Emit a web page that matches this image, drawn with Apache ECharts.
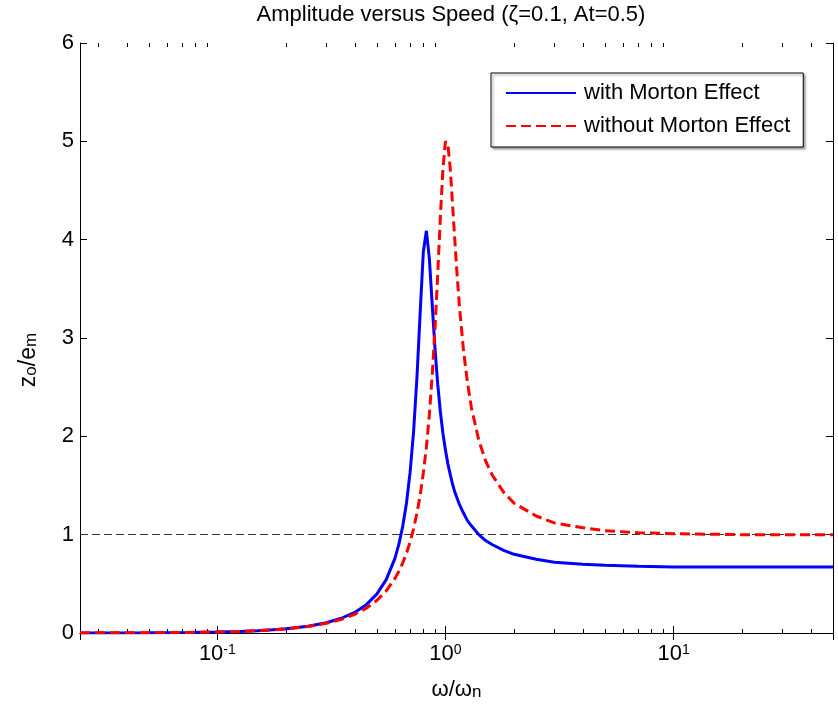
<!DOCTYPE html>
<html>
<head>
<meta charset="utf-8">
<script src="https://cdn.jsdelivr.net/npm/echarts@6/dist/echarts.min.js"></script>
<style>
html,body{margin:0;padding:0;background:#fff;}
#chart{width:838px;height:715px;}
</style>
</head>
<body>
<div id="chart"></div>
<script>
// frequency ratio (omega/omega_n)
var omega = [0.025,0.05,0.075,0.1,0.125,0.15,0.175,0.2,0.25,0.3,0.35,0.4,0.45,0.5,0.55,0.6,0.625,0.65,0.675,0.7,0.725,0.75,0.775,0.8,0.825,0.85,0.875,0.9,0.925,0.95,0.975,1.0,1.025,1.05,1.075,1.1,1.125,1.15,1.2,1.25,1.3,1.4,1.5,1.6,1.8,2.0,2.5,3,4,5,7,10,20,50];
// z_o/e_m with Morton effect
var withMorton = [0.001,0.003,0.006,0.010,0.016,0.023,0.032,0.043,0.069,0.104,0.150,0.209,0.288,0.395,0.543,0.757,0.903,1.087,1.323,1.636,2.048,2.60,3.26,3.88,4.09,3.81,3.34,2.89,2.53,2.25,2.03,1.86,1.72,1.61,1.51,1.43,1.37,1.31,1.22,1.14,1.09,1.00,0.94,0.90,0.84,0.80,0.75,0.72,0.70,0.69,0.68,0.67,0.67,0.67];
// z_o/e_m without Morton effect
var withoutMorton = [0.001,0.003,0.006,0.010,0.016,0.023,0.032,0.042,0.067,0.099,0.139,0.190,0.252,0.330,0.428,0.553,0.628,0.714,0.812,0.926,1.06,1.22,1.40,1.63,1.89,2.22,2.62,3.10,3.65,4.23,4.72,5.00,4.97,4.72,4.35,3.98,3.64,3.34,2.87,2.54,2.29,1.96,1.75,1.61,1.43,1.32,1.19,1.12,1.07,1.04,1.02,1.01,1.00,1.00];
// reference level
var refLevel = 1;
// minor tick values on the log axis
var minorTicks = [0.03,0.04,0.05,0.06,0.07,0.08,0.09,0.2,0.3,0.4,0.5,0.6,0.7,0.8,0.9,2,3,4,5,6,7,8,9,20,30,40];
var xMin = 0.025, xMax = 50, yMin = 0, yMax = 6;

var FONT = "'Liberation Sans', Arial, Helvetica, sans-serif";
var chart = echarts.init(document.getElementById('chart'), null, {renderer:'canvas'});

function pairs(xs, ys){ return xs.map(function(x,i){ return [x, ys[i]]; }); }

var option = {
  animation: false,
  backgroundColor: '#fff',
  textStyle: {fontFamily: FONT, color:'#000'},
  title: {
    text: 'Amplitude versus Speed (\u03B6=0.1, At=0.5)',
    left: 451, top: 4, textAlign: 'center', padding: 0,
    textStyle: {fontFamily: FONT, fontSize: 22, fontWeight: 'normal', color: '#000'}
  },
  grid: {left: 77, right: 5, top: 43, bottom: 82, containLabel: false},
  legend: {
    orient: 'vertical',
    left: 491, top: 73,
    padding: [9, 13, 10, 14],
    itemGap: 11,
    itemWidth: 70, itemHeight: 14,
    backgroundColor: '#fff',
    borderColor: '#000', borderWidth: 1, borderRadius: 0,
    shadowColor: 'rgba(0,0,0,0.35)', shadowBlur: 2, shadowOffsetX: 2, shadowOffsetY: 2,
    itemStyle: {opacity: 0},
    textStyle: {fontFamily: FONT, fontSize: 22, color: '#000', padding: [0,0,0,3]},
    data: ['with Morton Effect', 'without Morton Effect']
  },
  xAxis: [{
    type: 'log', logBase: 10, min: xMin, max: xMax, position: 'bottom',
    axisLine: {show: true, lineStyle: {color: '#000', width: 1}},
    axisTick: {show: true, inside: true, length: 7, lineStyle: {color:'#000'}},
    splitLine: {show: false},
    axisLabel: {
      show: true, margin: 10, showMinLabel: false, showMaxLabel: false, color: '#000',
      formatter: function(v){
        var e = Math.round(Math.log(v)/Math.LN10);
        return '{b|10}{s|' + e + '}';
      },
      rich: {
        b: {fontFamily: FONT, fontSize: 22, lineHeight: 22, padding: [6,0,0,0], verticalAlign: 'bottom', color:'#000'},
        s: {fontFamily: FONT, fontSize: 14, lineHeight: 14, verticalAlign: 'top', color:'#000'}
      }
    },
    name: '{m|\u03C9/\u03C9}{sub|n}',
    nameLocation: 'middle', nameGap: 38,
    nameTextStyle: {
      rich: {
        m: {fontFamily: FONT, fontSize: 22, lineHeight: 22, verticalAlign: 'top', color:'#000'},
        sub: {fontFamily: FONT, fontSize: 17, lineHeight: 17, padding: [14,0,0,0], verticalAlign: 'bottom', color:'#000'}
      }
    }
  },{
    type: 'log', logBase: 10, min: xMin, max: xMax, position: 'top',
    axisLine: {show: true, lineStyle: {color: '#000', width: 1}},
    axisTick: {show: true, inside: true, length: 7, lineStyle: {color:'#000'}},
    axisLabel: {show: false}, splitLine: {show: false}
  }],
  yAxis: [{
    type: 'value', min: yMin, max: yMax, interval: 1, position: 'left',
    axisLine: {show: true, lineStyle: {color: '#000', width: 1}},
    axisTick: {show: true, inside: true, length: 7, lineStyle: {color:'#000'}},
    splitLine: {show: false},
    axisLabel: {fontFamily: FONT, fontSize: 22, color: '#000', margin: 6},
    name: '{m|z}{sub|o}{m|/e}{sub|m}',
    nameLocation: 'middle', nameRotate: 90, nameGap: 40,
    nameTextStyle: {
      padding: [0, 44, 0, 0],
      rich: {
        m: {fontFamily: FONT, fontSize: 23, lineHeight: 23, verticalAlign: 'top', color:'#000'},
        sub: {fontFamily: FONT, fontSize: 17, lineHeight: 17, padding: [15,0,0,0], verticalAlign: 'bottom', color:'#000'}
      }
    }
  },{
    type: 'value', min: yMin, max: yMax, interval: 1, position: 'right',
    axisLine: {show: true, lineStyle: {color: '#000', width: 1}},
    axisTick: {show: true, inside: true, length: 7, lineStyle: {color:'#000'}},
    axisLabel: {show: false}, splitLine: {show: false}
  }],
  series: [
    {
      name: 'minorTicks', type: 'custom', xAxisIndex: 0, yAxisIndex: 0,
      silent: true, clip: false, z: 1,
      data: minorTicks.map(function(v){ return [v]; }),
      encode: {x: 0},
      renderItem: function(params, api){
        var v = api.value(0);
        var b = api.coord([v, yMin]);
        var t = api.coord([v, yMax]);
        var x = Math.round(b[0]) + 0.5;
        return {type: 'group', children: [
          {type: 'line', shape: {x1: x, y1: b[1], x2: x, y2: b[1]-4}, style: {stroke: '#000', lineWidth: 1}},
          {type: 'line', shape: {x1: x, y1: t[1], x2: x, y2: t[1]+4}, style: {stroke: '#000', lineWidth: 1}}
        ]};
      }
    },
    {
      name: 'with Morton Effect', type: 'line', xAxisIndex: 0, yAxisIndex: 0,
      data: pairs(omega, withMorton), showSymbol: false, symbol: 'none', z: 3,
      lineStyle: {color: '#0000ff', width: 3, type: 'solid'},
      itemStyle: {color: '#0000ff'},
      markLine: {
        silent: true, symbol: ['none','none'], label: {show: false}, z: 2,
        lineStyle: {color: '#333', width: 1, type: [8, 4]},
        data: [{yAxis: refLevel}]
      }
    },
    {
      name: 'without Morton Effect', type: 'line', xAxisIndex: 0, yAxisIndex: 0,
      data: pairs(omega, withoutMorton), showSymbol: false, symbol: 'none', z: 4,
      lineStyle: {color: '#ff0000', width: 3, type: [10, 5]},
      itemStyle: {color: '#ff0000'}
    }
  ]
};
chart.setOption(option);
</script>
</body>
</html>
